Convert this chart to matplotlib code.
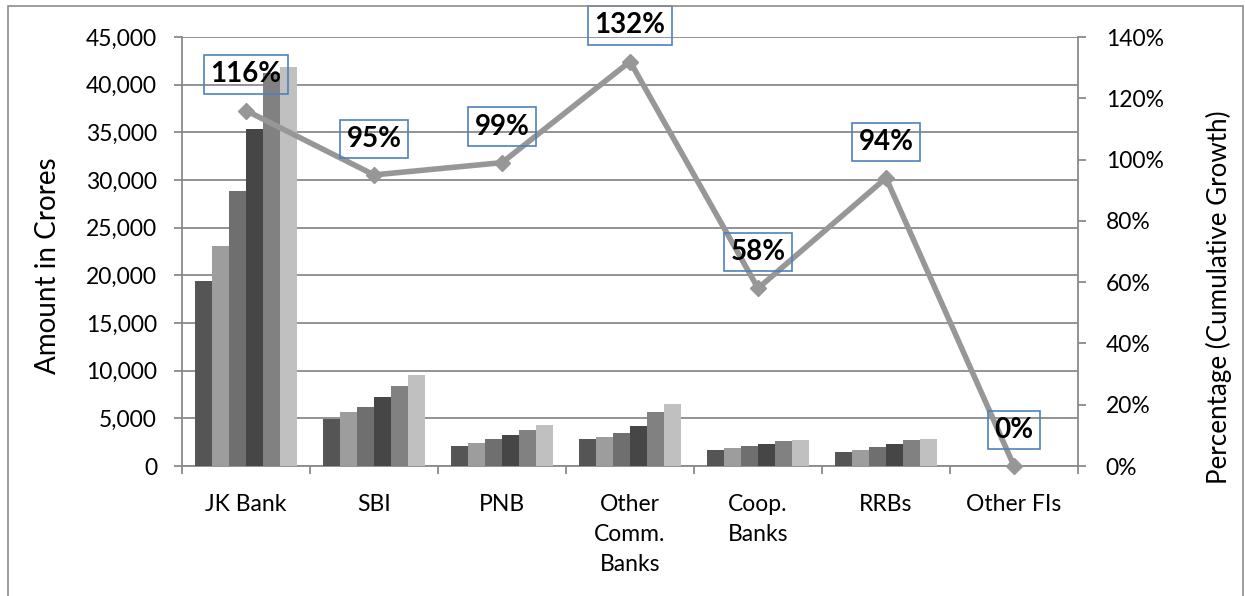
import matplotlib.pyplot as plt
import numpy as np
from matplotlib.patches import Rectangle
from matplotlib.ticker import FuncFormatter

plt.rcParams["font.family"] = ["Lato", "DejaVu Sans"]

categories = ["JK Bank", "SBI", "PNB", "Other\nComm.\nBanks", "Coop.\nBanks", "RRBs", "Other FIs"]

# deposits (Rs crore) per year, oldest first
series_1 = [19400, 4900, 2100, 2800, 1700, 1450, 0]
series_2 = [23100, 5700, 2400, 3050, 1850, 1700, 0]
series_3 = [28800, 6200, 2800, 3450, 2050, 2000, 0]
series_4 = [35300, 7250, 3300, 4150, 2350, 2300, 0]
series_5 = [41200, 8400, 3800, 5700, 2650, 2700, 0]
series_6 = [41900, 9500, 4250, 6550, 2700, 2850, 0]

growth_pct = [116, 95, 99, 132, 58, 94, 0]

BAR_COLORS = ["#555555", "#9d9d9d", "#6f6f6f", "#464646", "#818181", "#c0c0c0"]
LINE_COLOR = "#979797"
GRID_COLOR = "#8a8a8a"


def main():
    fig = plt.figure(figsize=(12.45, 5.96), dpi=100)
    ax = fig.add_axes([0.1462, 0.2181, 0.8659 - 0.1462, 0.9379 - 0.2181])

    # outer chart frame
    fig.patches.append(Rectangle((8 / 1245, -0.05), (1243 - 8) / 1245, 1 - 6 / 596 + 0.05,
                                 transform=fig.transFigure, fill=False,
                                 edgecolor="#8c8c8c", linewidth=1.2))

    all_series = [series_1, series_2, series_3, series_4, series_5, series_6]
    x = np.arange(len(categories))
    width = 0.8 / len(all_series)
    for i, vals in enumerate(all_series):
        offs = (i - (len(all_series) - 1) / 2) * width
        ax.bar(x + offs, vals, width, color=BAR_COLORS[i], zorder=3)

    ax.set_xlim(-0.5, len(categories) - 0.5)
    ax.set_ylim(0, 45000)
    ax.set_yticks(np.arange(0, 45001, 5000))
    ax.yaxis.set_major_formatter(FuncFormatter(lambda v, p: f"{int(v):,}"))
    ax.grid(axis="y", color=GRID_COLOR, linewidth=1.3, zorder=0)
    ax.set_axisbelow(True)

    ax.set_xticks(x)
    ax.set_xticklabels(categories, fontsize=16.5, linespacing=1.55, va="top")
    ax.set_xticks(np.arange(-0.5, len(categories), 1), minor=True)
    ax.tick_params(axis="x", which="major", length=0, pad=20)
    ax.tick_params(axis="x", which="minor", length=6, color=GRID_COLOR, width=1.3)
    ax.tick_params(axis="y", length=6, color=GRID_COLOR, width=1.3, labelsize=16.5, pad=12)
    ax.set_ylabel("Amount in Crores", fontsize=20)
    ax.yaxis.set_label_coords(-0.135, 0.466)

    for side in ["top", "right"]:
        ax.spines[side].set_visible(False)
    for side in ["left", "bottom"]:
        ax.spines[side].set_color(GRID_COLOR)
        ax.spines[side].set_linewidth(1.3)

    ax2 = ax.twinx()
    ax2.set_ylim(0, 140)
    ax2.set_yticks(np.arange(0, 141, 20))
    ax2.yaxis.set_major_formatter(FuncFormatter(lambda v, p: f"{int(v)}%"))
    ax2.tick_params(axis="y", length=6, color=GRID_COLOR, width=1.3, labelsize=16.5, pad=14)
    for side in ["top", "left", "bottom"]:
        ax2.spines[side].set_visible(False)
    ax2.spines["right"].set_color(GRID_COLOR)
    ax2.spines["right"].set_linewidth(1.3)
    ax2.set_ylabel("Percentage (Cumulative Growth)", fontsize=18.7)
    ax2.yaxis.set_label_coords(1.143, 0.394)

    ax2.plot(x, growth_pct, color=LINE_COLOR, linewidth=4, marker="D",
             markersize=8.5, clip_on=False, zorder=4)

    for xi, g in zip(x, growth_pct):
        ax2.annotate(f"{g}%", (xi, g), xytext=(0, 26), textcoords="offset points",
                     ha="center", va="center", fontsize=20, fontweight="bold",
                     bbox=dict(boxstyle="square,pad=0.22", fc="none",
                               ec="#4f81bd", lw=1.2),
                     annotation_clip=False, zorder=5)

    fig.savefig("out.png", dpi=100)
    plt.close(fig)


if __name__ == "__main__":
    main()
